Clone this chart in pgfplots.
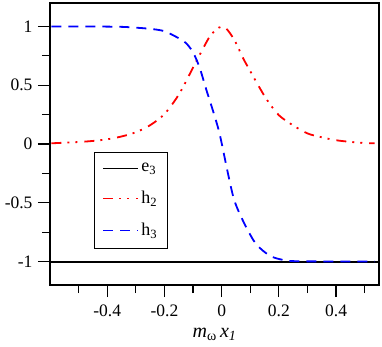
\documentclass[border=0pt]{standalone}
\usepackage{fontspec}
\setmainfont{Liberation Serif}
\usepackage{pgfplots}
\pgfplotsset{compat=1.18}
\begin{document}
\begin{tikzpicture}
\useasboundingbox (-50bp,-62bp) rectangle (332bp,285bp);
\begin{axis}[
  scale only axis, width=329bp, height=282bp,
  at={(0,0)}, anchor=south west,
  xmin=-0.6, xmax=0.55, ymin=-1.2, ymax=1.2,
  xtick={-0.4,-0.2,0,0.2,0.4}, xticklabels={-0.4,-0.2,0,0.2,0.4},
  ytick={-1,-0.5,0,0.5,1}, yticklabels={-1,-0.5,0,0.5,1},
  minor xtick={-0.5,-0.3,-0.1,0.1,0.3,0.5},
  minor ytick={-0.75,-0.25,0.25,0.75},
  tick pos=left, tick align=outside,
  major tick length=12bp, minor tick length=8bp,
  axis line style={line width=1.2bp},
  tick style={line width=1.2bp, black},
  tick label style={font=\fontsize{17.5bp}{20bp}\selectfont},
  xticklabel style={yshift=-4bp},
  yticklabel style={xshift=-2bp},
  xlabel={\textit{m}\textsubscript{ω}\,\textit{x}\textsubscript{\textit{1}}},
  xlabel style={font=\fontsize{20bp}{22bp}\selectfont, yshift=-5bp},
  legend style={at={(0.1337,0.4716)}, anchor=north west, draw=black, line width=1bp, fill=white,
    font=\fontsize{18bp}{20bp}\selectfont, inner xsep=8bp, inner ysep=9bp, row sep=14bp,
    /tikz/every even column/.append style={column sep=16bp}},
  legend cell align=left,
  legend image code/.code={\draw[line width=1.8bp, #1] (0bp,0bp) -- (35bp,0bp);},
]
\addplot[black, line width=2bp] coordinates {(-0.6,-1) (0.55,-1)};
\addlegendentry{e\textsubscript{3}}
\addplot[red, line width=1.8bp, smooth, dash pattern=on 10bp off 6bp on 2bp off 6bp on 2bp off 7bp] coordinates {
(-0.595,0.006) (-0.55,0.011) (-0.5,0.017) (-0.45,0.026) (-0.4,0.04) (-0.35,0.064)
(-0.3,0.1) (-0.25,0.16) (-0.2,0.255) (-0.15,0.42) (-0.1,0.65) (-0.07,0.79)
(-0.04,0.92) (-0.01,0.99) (0.01,0.995) (0.03,0.94) (0.05,0.86) (0.075,0.73)
(0.1,0.62) (0.13,0.49) (0.16,0.37) (0.2,0.245) (0.25,0.158) (0.3,0.09)
(0.35,0.057) (0.4,0.032) (0.45,0.018) (0.5,0.008) (0.535,0.006)};
\addlegendentry{h\textsubscript{2}}
\addplot[blue, line width=1.8bp, smooth, dash pattern=on 10bp off 7bp] coordinates {
(-0.595,1.0) (-0.45,1.0) (-0.35,0.997) (-0.3,0.99) (-0.25,0.98) (-0.2,0.96)
(-0.15,0.9) (-0.125,0.86) (-0.1,0.78) (-0.077,0.65) (-0.054,0.465) (-0.03,0.28)
(-0.007,0.085) (0.022,-0.25) (0.045,-0.485) (0.08,-0.68) (0.12,-0.85)
(0.168,-0.95) (0.214,-0.986) (0.27,-0.998) (0.535,-1.0)};
\addlegendentry{h\textsubscript{3}}
\end{axis}
\end{tikzpicture}
\end{document}
